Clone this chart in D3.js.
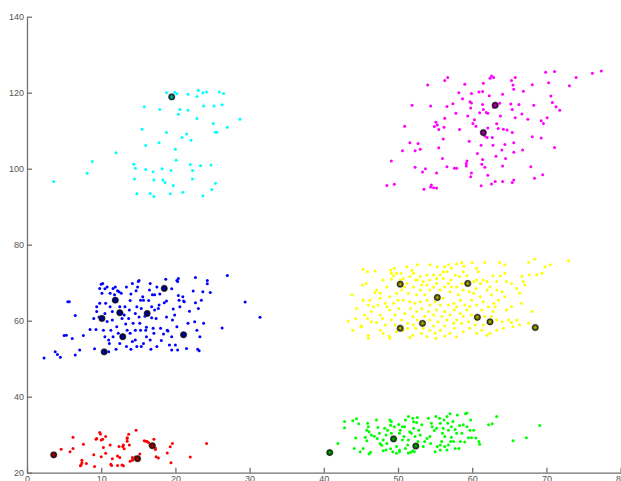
<!DOCTYPE html>
<html><head><meta charset="utf-8">
<script src="https://cdn.jsdelivr.net/npm/d3@7"></script>
<style>html,body{margin:0;padding:0;background:#fff;overflow:hidden}</style>
</head><body>
<svg id="chart" width="621" height="481"></svg>
<script>
const xTicks=[0,10,20,30,40,50,60,70,80];
const yTicks=[20,40,60,80,100,120,140];
const colors={red:"#ff0000",green:"#00ff00",blue:"#0000ff",yellow:"#ffff00",cyan:"#00ffff",magenta:"#ff00ff"};

const redPts=[[4.6,26.2],[5.8,25.5],[6.2,26.4],[6.2,29.3],[7.6,27.5],[7.4,23.3],[7.4,22.6],[7.3,22.1],[7.2,21.8],[8.0,22.4],[9.0,24.7],[9.1,21.6],[9.3,28.8],[9.4,29.0],[9.8,30.6],[9.9,30.2],[10.0,28.6],[10.2,28.8],[10.0,24.2],[10.3,26.6],[10.6,25.1],[10.6,29.5],[11.2,27.3],[11.3,22.2],[11.4,21.9],[11.5,23.7],[12.2,21.9],[12.4,26.9],[12.5,24.0],[12.8,22.0],[13.0,21.8],[12.9,26.9],[13.1,26.3],[13.0,27.3],[13.5,28.3],[13.5,29.0],[13.7,30.1],[13.5,29.2],[13.8,27.3],[13.9,23.0],[14.2,24.0],[14.2,23.3],[14.3,23.5],[14.6,24.1],[14.7,31.2],[15.2,24.9],[15.8,28.4],[16.0,28.3],[16.2,28.2],[16.4,27.9],[16.6,27.2],[17.1,28.8],[17.3,26.5],[17.3,26.1],[17.4,24.2],[17.7,23.9],[18.9,25.2],[19.3,26.8],[19.4,22.6],[19.6,27.7],[22.0,24.1],[24.2,27.7],[12.2,24.4]];
const redCenters=[[3.6,24.7],[16.9,27.1],[14.9,23.7]];

const greenPts=[[41.9,27.7],[42.8,33.5],[42.8,31.8],[43.9,33.7],[44.4,34.2],[44.7,32.9],[44.1,26.4],[44.3,29.1],[44.9,25.5],[45.3,26.4],[45.8,31.2],[45.9,33.0],[45.6,29.3],[46.1,30.8],[46.1,24.9],[46.3,25.4],[46.8,29.6],[47.1,33.9],[47.2,29.0],[47.3,31.9],[47.6,27.7],[47.8,27.2],[48.0,25.8],[48.2,31.7],[48.4,29.9],[48.5,27.7],[48.9,33.9],[49.1,33.4],[49.0,32.5],[49.1,30.4],[49.0,26.3],[49.3,25.5],[49.8,26.9],[49.8,25.1],[50.1,32.7],[50.2,30.4],[50.3,31.2],[50.2,25.5],[50.6,28.6],[50.8,29.5],[50.9,32.1],[51.3,27.3],[51.4,34.8],[51.6,30.8],[51.8,30.4],[52.0,34.3],[52.1,33.4],[52.1,31.7],[52.2,25.5],[52.5,33.2],[52.6,34.5],[52.8,31.2],[51.7,25.4],[51.4,25.2],[52.0,25.8],[53.2,32.6],[53.6,28.2],[53.9,29.0],[54.1,34.3],[54.4,27.7],[54.6,32.1],[54.9,31.1],[55.0,25.5],[55.2,31.7],[55.3,26.9],[55.6,34.3],[55.7,33.0],[55.7,26.0],[55.9,28.2],[56.0,30.4],[56.2,33.9],[56.3,26.9],[56.6,34.8],[56.6,26.0],[56.7,33.0],[56.8,31.2],[57.0,35.5],[57.1,28.2],[57.2,29.3],[57.4,33.5],[57.5,28.2],[57.7,31.4],[58.0,35.2],[58.3,32.4],[58.4,28.2],[58.2,26.4],[58.8,32.6],[59.0,28.1],[59.1,35.5],[59.3,35.7],[59.5,29.2],[59.8,33.9],[59.7,31.2],[59.9,29.2],[60.2,31.2],[60.5,29.1],[60.9,28.2],[61.0,27.5],[62.2,32.6],[62.7,32.9],[63.3,34.8],[65.5,28.4],[67.3,29.2],[69.1,32.4],[46.0,32.1],[46.4,29.9],[47.5,30.4],[48.6,31.2],[49.5,32.1],[50.6,32.1],[51.0,33.9],[52.3,29.5],[53.0,29.9],[52.7,28.2],[53.4,26.9],[54.5,33.0],[55.1,34.8],[56.1,31.7],[57.2,32.1],[57.9,30.4],[58.6,30.4],[59.3,32.1],[48.4,26.0],[50.2,26.0],[51.0,26.4],[55.7,27.3],[56.8,27.3],[57.7,26.4],[45.8,28.4],[48.0,28.6],[51.4,28.6],[54.3,29.5],[56.3,29.5]];
const greenCenters=[[40.8,25.3],[49.4,28.9],[52.4,27.0]];

const bluePts=[[2.3,50.2],[3.8,51.8],[4.1,51.1],[4.5,50.4],[5.3,56.2],[5.0,56.1],[5.5,65.0],[5.7,65.0],[6.1,55.3],[6.5,61.4],[6.5,51.0],[7.1,52.3],[7.6,56.1],[9.1,52.6],[9.3,57.7],[9.4,63.7],[9.4,62.4],[9.8,64.6],[9.8,68.5],[10.0,69.6],[10.2,69.8],[10.1,67.2],[9.7,61.0],[10.5,68.4],[10.8,68.9],[10.6,64.6],[10.8,59.8],[11.0,51.8],[11.1,54.0],[11.2,67.2],[11.3,57.5],[11.5,60.2],[11.5,62.4],[11.6,68.5],[11.8,66.8],[11.9,68.9],[12.0,52.5],[12.1,58.4],[12.2,67.9],[12.4,67.6],[12.5,63.7],[12.7,67.2],[12.8,60.6],[12.8,61.9],[13.1,61.5],[13.2,63.7],[13.3,59.1],[13.5,57.5],[13.7,60.6],[13.8,62.8],[13.9,65.3],[14.0,52.5],[14.0,67.0],[14.2,69.8],[14.2,54.5],[14.6,57.5],[14.6,54.9],[14.7,67.9],[14.9,68.9],[15.0,70.3],[15.1,70.6],[15.1,61.0],[15.2,59.3],[15.3,65.4],[15.3,57.5],[15.4,53.2],[15.6,66.3],[15.7,54.0],[15.7,65.4],[15.9,61.2],[16.0,57.5],[16.1,58.3],[16.4,65.3],[16.5,68.1],[16.6,54.9],[16.7,52.5],[16.8,60.8],[16.9,66.8],[17.0,58.0],[17.1,56.7],[17.2,66.8],[17.4,60.6],[17.7,63.2],[17.8,64.1],[17.9,67.0],[18.0,58.0],[18.1,54.8],[18.4,56.5],[18.5,64.7],[18.7,70.9],[18.8,65.2],[18.9,57.5],[19.0,57.3],[19.2,53.6],[19.5,68.4],[19.5,52.3],[19.6,60.2],[19.7,63.1],[19.9,61.5],[20.0,53.6],[20.2,70.6],[20.3,70.3],[20.3,52.3],[20.4,71.1],[20.4,66.6],[20.5,65.4],[20.6,63.7],[21.0,66.3],[21.1,65.2],[21.2,65.0],[21.5,52.7],[21.9,62.5],[22.4,67.8],[22.6,59.7],[22.7,71.4],[22.7,64.7],[23.0,52.5],[23.1,63.2],[23.2,52.1],[23.3,55.8],[23.5,65.4],[23.7,67.6],[23.8,59.3],[24.3,69.7],[24.3,70.6],[24.7,67.4],[26.3,58.1],[27.0,71.9],[29.4,64.9],[31.4,60.9],[10.3,57.5],[10.5,55.8],[11.0,54.9],[11.6,55.8],[12.3,56.7],[12.5,54.0],[13.9,56.7],[14.3,59.3],[14.8,63.7],[14.6,61.9],[15.4,63.2],[16.8,63.7],[17.2,62.8],[16.1,55.8],[17.5,53.2],[14.8,53.2],[13.4,53.2],[11.2,63.7],[10.5,61.9],[13.4,68.9],[16.6,69.8],[17.5,68.9],[18.8,61.0],[19.5,55.8],[20.2,58.4],[21.7,59.3],[22.9,57.5],[9.0,60.6],[8.5,57.7]];
const blueCenters=[[10.1,60.6],[11.9,65.4],[12.5,62.1],[16.2,61.9],[18.5,68.5],[12.9,55.8],[10.4,51.8],[21.1,56.3]];

const yellowPts=[[45.3,73.5],[45.9,72.9],[46.9,73.1],[49.0,73.3],[49.5,73.8],[49.1,72.5],[51.2,74.2],[51.9,73.3],[52.6,74.7],[54.3,74.7],[55.3,74.2],[56.3,74.2],[56.8,74.7],[57.2,73.8],[57.9,74.9],[58.6,75.3],[58.9,74.4],[60.0,75.3],[60.6,73.8],[60.8,72.9],[61.7,75.3],[63.7,75.3],[64.4,74.7],[67.6,75.3],[68.4,76.2],[69.8,74.2],[70.5,74.7],[73.0,75.8],[69.4,72.5],[68.7,72.1],[43.8,66.8],[44.4,63.2],[45.2,69.4],[45.7,69.8],[47.1,68.1],[46.9,67.4],[47.6,67.2],[48.0,70.7],[48.5,68.9],[49.4,71.8],[49.1,70.9],[49.8,72.5],[50.4,72.5],[50.7,71.1],[51.2,69.8],[51.6,71.6],[52.1,72.5],[52.6,70.7],[53.0,71.6],[53.4,70.3],[53.9,72.0],[54.3,70.7],[54.8,72.0],[55.2,71.1],[55.7,72.0],[56.1,71.1],[56.6,72.9],[56.8,69.8],[57.1,70.7],[57.7,72.0],[58.3,71.6],[58.8,72.9],[59.3,71.8],[60.2,70.3],[60.6,70.7],[61.1,69.8],[61.5,70.7],[62.0,70.3],[62.8,71.8],[63.3,70.3],[63.8,71.8],[64.4,72.5],[64.6,70.3],[65.3,69.8],[66.7,71.6],[66.9,70.3],[67.7,72.1],[45.3,65.4],[46.0,64.1],[46.2,65.4],[47.6,65.9],[48.3,64.6],[48.9,66.3],[49.8,67.2],[50.5,68.1],[50.9,68.9],[50.7,65.4],[51.4,67.2],[51.6,65.0],[52.1,68.9],[52.5,66.8],[53.0,68.1],[53.2,69.4],[53.6,66.8],[53.9,65.4],[54.3,68.1],[54.8,68.9],[55.0,65.0],[55.7,68.1],[56.1,65.9],[56.3,68.9],[57.0,67.6],[57.5,64.6],[57.9,68.9],[58.1,66.8],[58.4,65.4],[58.8,68.1],[59.0,64.1],[59.9,65.4],[60.2,67.2],[60.5,68.5],[61.1,66.3],[61.5,65.0],[62.0,68.1],[62.6,66.8],[62.9,64.6],[63.5,65.4],[64.0,67.6],[64.4,66.3],[66.0,68.5],[66.4,67.2],[67.1,69.4],[66.6,64.6],[65.3,63.7],[64.6,62.8],[63.1,63.7],[43.3,59.9],[43.9,57.5],[44.3,60.6],[45.1,58.4],[45.9,60.6],[46.4,62.4],[47.1,59.5],[47.6,61.5],[47.9,60.6],[48.3,58.9],[48.9,62.8],[49.1,60.2],[49.6,61.5],[50.1,63.2],[50.5,60.2],[50.9,61.9],[51.3,59.3],[51.7,63.2],[52.0,61.1],[52.5,62.4],[52.6,60.2],[53.2,63.2],[53.6,61.1],[54.1,62.4],[54.3,60.2],[54.8,61.5],[55.2,62.8],[55.4,59.7],[55.9,61.1],[56.3,62.4],[56.6,60.2],[57.0,61.5],[57.6,62.8],[57.9,60.2],[58.4,61.9],[58.6,59.3],[59.3,62.8],[59.5,59.7],[59.9,61.5],[61.3,62.8],[61.7,61.1],[62.8,62.4],[63.3,60.2],[64.0,59.7],[64.9,60.2],[65.3,59.5],[66.0,60.2],[66.4,58.9],[67.6,59.3],[68.1,62.4],[64.2,58.0],[65.5,58.4],[45.0,58.6],[46.0,56.2],[46.0,55.4],[47.6,57.5],[48.0,56.7],[48.8,56.0],[48.9,55.4],[49.8,57.1],[50.7,57.5],[51.6,55.6],[52.0,56.2],[52.4,58.0],[53.2,56.7],[53.9,55.8],[54.3,57.5],[55.0,56.7],[55.1,55.4],[55.7,57.5],[56.3,56.0],[57.0,56.7],[57.6,58.0],[57.9,55.8],[58.8,57.1],[59.7,58.0],[60.6,56.7],[61.3,57.5],[62.0,56.2],[62.4,56.7],[63.3,57.5],[60.4,58.9],[61.5,58.9],[53.4,58.0],[51.3,58.0],[49.6,58.9],[46.4,59.7],[45.5,61.5],[46.7,63.7],[47.3,64.1],[48.5,63.7],[49.4,64.6],[50.0,65.4],[52.3,64.6],[53.0,65.0],[54.3,64.1],[55.7,64.1],[56.8,64.1],[57.9,63.7],[59.7,63.7],[60.6,64.1],[62.2,63.7],[52.1,58.9],[54.8,58.6],[56.3,58.6],[57.5,59.3],[58.8,61.1],[60.6,60.2],[62.6,61.1],[50.3,70.7],[52.4,70.7],[53.9,69.4],[55.2,69.8],[56.1,72.9],[57.2,68.9],[58.6,69.8],[59.6,67.6],[62.4,68.9],[63.3,68.1]];
const yellowCenters=[[50.3,69.6],[59.4,69.8],[55.3,66.1],[50.3,58.0],[53.3,59.3],[60.7,60.9],[62.4,59.7],[68.5,58.2]];

const magentaPts=[[48.5,95.6],[49.5,95.9],[49.1,102.0],[50.6,104.7],[50.9,111.2],[51.6,106.8],[51.9,116.7],[52.3,100.4],[52.3,104.7],[52.7,106.6],[53.0,105.1],[53.3,99.1],[53.7,100.0],[53.5,94.6],[54.0,122.0],[54.4,116.5],[54.4,95.2],[54.5,95.7],[54.8,95.0],[54.9,111.1],[55.1,112.2],[55.3,111.5],[55.2,94.9],[55.2,98.9],[55.5,110.3],[55.5,105.5],[56.0,102.7],[56.1,107.8],[56.2,110.9],[56.3,113.3],[56.6,116.4],[56.6,100.5],[56.3,123.2],[56.7,124.0],[57.4,117.1],[57.6,100.1],[57.8,114.6],[57.9,100.1],[58.2,120.0],[58.3,110.3],[58.7,118.4],[59.0,122.2],[59.2,101.4],[59.2,100.7],[59.3,102.0],[59.4,113.9],[59.6,107.2],[59.7,117.6],[59.9,117.3],[59.9,119.8],[59.8,116.0],[59.9,98.9],[59.8,97.9],[60.1,111.9],[60.3,112.9],[60.5,111.2],[60.7,104.0],[60.9,120.2],[61.0,114.7],[61.2,106.2],[61.2,95.5],[61.3,101.2],[61.4,120.3],[61.5,122.5],[61.4,116.9],[61.5,115.6],[61.4,102.4],[61.9,114.8],[62.0,108.2],[62.1,114.6],[62.1,110.7],[62.3,119.2],[62.4,123.8],[62.6,124.4],[62.6,96.0],[62.7,108.2],[62.8,106.2],[62.9,124.0],[62.9,116.1],[63.1,96.6],[63.3,111.8],[63.2,103.3],[63.5,110.6],[63.7,117.2],[63.8,113.9],[64.0,104.9],[64.1,119.6],[64.1,96.6],[64.1,100.7],[64.4,106.4],[64.2,110.4],[64.5,102.7],[64.7,110.2],[65.2,117.0],[65.4,115.6],[65.3,123.2],[65.5,122.0],[65.4,109.5],[65.4,96.4],[65.6,106.8],[65.6,120.9],[65.6,104.3],[65.6,97.0],[65.8,113.4],[65.8,124.0],[66.3,116.9],[66.7,114.4],[66.8,104.9],[66.9,120.4],[67.5,113.0],[67.9,100.5],[68.1,108.4],[68.1,122.1],[68.3,116.7],[68.4,97.5],[69.3,108.1],[69.3,112.6],[69.5,98.4],[69.6,111.9],[69.9,125.4],[70.1,113.4],[70.3,122.6],[70.6,119.1],[70.8,117.4],[71.1,125.6],[71.1,105.6],[71.3,116.3],[71.8,115.4],[73.1,121.8],[74.0,124.0],[76.2,125.1],[77.4,125.7],[61.7,100.4],[62.1,98.3],[61.7,108.6]];
const magentaCenters=[[63.1,116.7],[61.5,109.5]];

const cyanPts=[[3.6,96.6],[8.1,98.8],[8.8,101.9],[12.0,104.2],[14.4,101.2],[14.6,100.1],[14.5,97.3],[14.8,93.4],[15.5,110.4],[15.8,116.3],[16.0,106.1],[16.0,99.8],[16.6,93.5],[17.0,99.2],[17.1,97.0],[17.1,92.7],[17.8,106.8],[17.9,115.6],[18.2,100.0],[18.3,97.0],[18.6,96.4],[18.8,120.0],[18.8,109.5],[19.4,99.5],[19.3,93.4],[19.7,95.6],[19.9,120.1],[20.0,105.1],[20.1,102.2],[20.2,119.7],[20.4,114.3],[20.6,115.6],[20.9,108.2],[21.0,93.8],[21.5,109.1],[21.7,115.4],[21.7,119.6],[22.0,101.1],[22.1,107.5],[22.3,99.5],[22.3,97.3],[22.9,113.2],[22.9,119.0],[23.1,120.6],[23.4,100.8],[23.7,120.0],[23.7,92.9],[23.8,116.5],[24.2,120.2],[24.8,101.0],[24.9,94.5],[25.1,111.9],[25.2,116.5],[25.4,109.6],[25.4,96.2],[25.6,109.6],[25.9,120.2],[26.3,116.8],[26.5,119.8],[27.0,110.9],[28.7,113.0]];
const cyanCenters=[[19.5,118.9]];

const groups=[
  {c:colors.red,pts:redPts,cen:redCenters},
  {c:colors.green,pts:greenPts,cen:greenCenters},
  {c:colors.blue,pts:bluePts,cen:blueCenters},
  {c:colors.yellow,pts:yellowPts,cen:yellowCenters},
  {c:colors.cyan,pts:cyanPts,cen:cyanCenters},
  {c:colors.magenta,pts:magentaPts,cen:magentaCenters}
];

const svg=d3.select("#chart");
const x=d3.scaleLinear().domain([0,80]).range([27,620.6]);
const y=d3.scaleLinear().domain([20,140]).range([472.7,16.7]);

const defs=svg.append("defs");
defs.append("filter").attr("id","soft").append("feGaussianBlur").attr("stdDeviation",0.35);

const plot=svg.append("g").attr("filter","url(#soft)");
groups.forEach(g=>{
  plot.append("g").selectAll("circle").data(g.pts).join("circle")
    .attr("cx",d=>x(d[0])).attr("cy",d=>y(d[1])).attr("r",1.5).attr("fill",g.c);
});
groups.forEach(g=>{
  const dark=d3.color(g.c).darker(2.4).formatHex();
  const gg=plot.append("g");
  gg.selectAll("circle.halo").data(g.cen).join("circle").attr("class","halo")
    .attr("cx",d=>x(d[0])).attr("cy",d=>y(d[1])).attr("r",3.8).attr("fill","#888").attr("opacity",0.4);
  gg.selectAll("circle.core").data(g.cen).join("circle").attr("class","core")
    .attr("cx",d=>x(d[0])).attr("cy",d=>y(d[1])).attr("r",2.9).attr("fill",dark)
    .attr("stroke","#111").attr("stroke-width",0.9);
  gg.selectAll("circle.dot").data(g.cen).join("circle").attr("class","dot")
    .attr("cx",d=>x(d[0])).attr("cy",d=>y(d[1])).attr("r",1.0).attr("fill",g.c).attr("opacity",0.55);
});

const xAxis=d3.axisBottom(x).tickValues(xTicks).tickSizeInner(-5).tickSizeOuter(0).tickPadding(3);
const yAxis=d3.axisLeft(y).tickValues(yTicks).tickSizeInner(-5).tickSizeOuter(0).tickPadding(3);
const gx=svg.append("g").attr("transform",`translate(0,${y(20)})`).call(xAxis);
const gy=svg.append("g").attr("transform",`translate(${x(0)},0)`).call(yAxis);
[gx,gy].forEach(a=>{
  a.selectAll("path,line").attr("stroke","#707070").attr("stroke-width",1.3);
  a.selectAll("text").attr("fill","#555").style("font-family","'Liberation Sans',Arial,sans-serif").style("font-size","9px");
});
gx.select(".domain").attr("d",`M27,0.5H621`);
</script>
</body></html>
